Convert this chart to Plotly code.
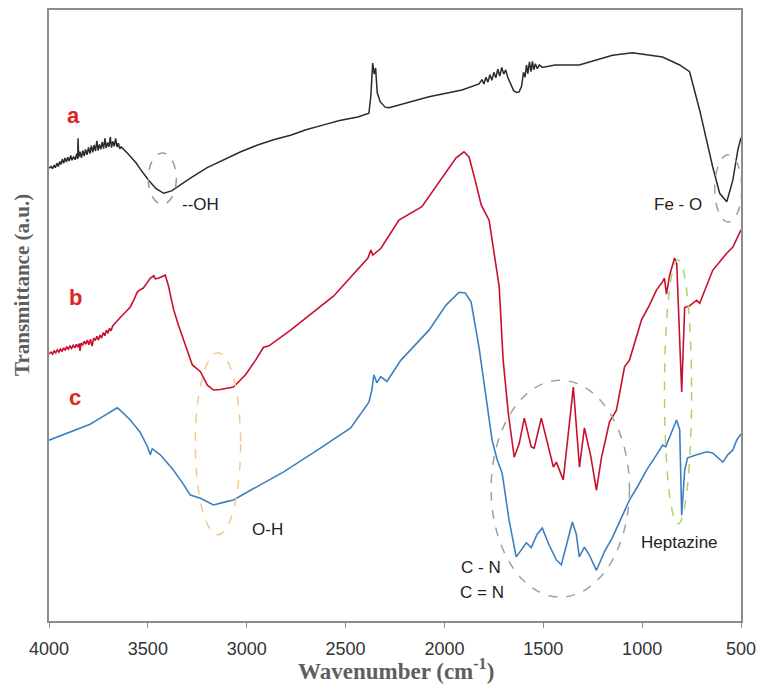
import plotly.graph_objects as go

# Curve a (Fe3O4) : wavenumber (cm-1), transmittance (a.u.)
wn_a = [4000, 3990, 3982, 3975, 3968, 3960, 3953, 3946, 3940, 3932, 3926, 3919, 3912, 3905, 3898, 3890,
        3884, 3876, 3868, 3860, 3855, 3853, 3850, 3843, 3836, 3829, 3822, 3815, 3808, 3800, 3793, 3786,
        3779, 3772, 3765, 3758, 3752, 3745, 3738, 3731, 3724, 3717, 3711, 3704, 3697, 3690, 3684, 3677,
        3670, 3663, 3656, 3649, 3642, 3635, 3604, 3560, 3539, 3500, 3460, 3420, 3380, 3330, 3285, 3200,
        3118, 3030, 2945, 2860, 2778, 2700, 2611, 2530, 2438, 2382, 2372, 2363, 2355, 2348, 2340, 2325,
        2300, 2280, 2078, 1911, 1825, 1810, 1800, 1790, 1780, 1770, 1760, 1750, 1740, 1730, 1720, 1710,
        1700, 1690, 1680, 1665, 1650, 1635, 1622, 1610, 1600, 1592, 1585, 1578, 1570, 1562, 1555, 1548,
        1540, 1530, 1520, 1505, 1480, 1440, 1318, 1150, 1049, 897, 810, 760, 709, 684, 668, 643, 608,
        572, 541, 516, 500]
t_a = [74.1, 74.4, 74.0, 74.6, 74.2, 74.9, 74.4, 75.2, 74.7, 75.6, 74.9, 75.8, 75.1, 75.9, 75.3, 76.2,
       75.4, 76.0, 75.5, 76.5, 75.6, 79.0, 75.9, 76.8, 75.8, 77.0, 76.1, 77.2, 76.3, 77.5, 76.5, 77.8,
       76.7, 77.9, 76.9, 78.6, 77.0, 78.0, 77.2, 78.4, 77.3, 79.0, 77.4, 78.3, 77.6, 79.2, 77.5, 78.5,
       77.7, 79.0, 77.6, 78.2, 77.3, 77.6, 76.6, 75.0, 74.0, 72.3, 70.8, 70.0, 70.4, 71.5, 72.5, 74.2,
       75.4, 76.8, 77.9, 78.8, 79.5, 80.4, 81.2, 81.9, 82.5, 83.1, 86.0, 91.3, 89.5, 90.5, 86.5, 85.0,
       84.1, 84.0, 85.8, 86.9, 87.9, 88.6, 87.9, 89.0, 88.2, 89.4, 88.5, 89.8, 88.9, 90.3, 89.2, 90.6,
       89.5, 90.2, 89.0, 88.0, 86.8, 86.5, 86.6, 87.5, 89.8, 89.0, 91.0, 89.6, 91.5, 89.9, 91.6, 90.2,
       91.2, 90.4, 91.0, 90.6, 90.8, 91.0, 91.0, 92.6, 93.0, 92.3, 91.0, 89.9, 83.6, 79.9, 77.5, 74.3,
       70.0, 68.6, 72.2, 77.1, 79.1]

# Curve b
wn_b = [4000, 3990, 3982, 3974, 3966, 3958, 3950, 3942, 3934, 3926, 3918, 3910, 3902, 3894, 3886, 3878,
        3870, 3862, 3855, 3848, 3843, 3838, 3830, 3822, 3814, 3806, 3798, 3790, 3782, 3774, 3766, 3758,
        3750, 3742, 3734, 3726, 3718, 3710, 3702, 3694, 3686, 3678, 3650, 3620, 3589, 3570, 3554, 3540,
        3523, 3505, 3488, 3470, 3462, 3447, 3430, 3412, 3397, 3370, 3346, 3310, 3275, 3234, 3199, 3168,
        3133, 3067, 3006, 2955, 2915, 2889, 2778, 2560, 2387, 2372, 2362, 2321, 2230, 2114, 2017, 1941,
        1901, 1875, 1845, 1814, 1774, 1723, 1703, 1677, 1647, 1622, 1596, 1561, 1546, 1510, 1449, 1434,
        1399, 1373, 1348, 1317, 1292, 1260, 1231, 1206, 1165, 1130, 1089, 1064, 1003, 963, 927, 897,
        887, 877, 861, 836, 825, 800, 785, 760, 724, 709, 643, 572, 541, 500]
t_b = [43.7, 44.0, 43.7, 44.2, 43.9, 44.4, 44.0, 44.5, 44.1, 44.7, 44.3, 44.9, 44.5, 45.0, 44.6, 45.1,
       44.7, 45.3, 44.8, 45.4, 44.2, 45.5, 45.1, 45.8, 45.3, 46.0, 45.2, 46.1, 45.0, 46.3, 45.9, 46.6,
       46.0, 46.8, 46.3, 47.2, 46.7, 47.6, 47.1, 47.9, 47.5, 48.3, 49.3, 50.3, 51.4, 52.6, 53.8, 54.2,
       54.5, 55.3, 56.1, 56.5, 56.0, 56.1, 56.4, 56.6, 55.0, 51.0, 48.5, 45.2, 41.9, 40.8, 38.6, 37.8,
       37.9, 38.3, 40.3, 42.7, 44.8, 45.0, 47.6, 53.2, 59.4, 60.7, 59.9, 61.0, 65.6, 67.8, 72.2, 75.8,
       76.8, 75.9, 72.2, 68.1, 65.6, 54.7, 42.7, 34.0, 26.8, 29.0, 33.2, 28.5, 28.3, 33.2, 25.2, 26.0,
       23.1, 30.8, 38.3, 25.2, 31.6, 27.0, 21.4, 26.7, 32.6, 34.5, 41.6, 42.7, 49.3, 51.7, 54.2, 55.5,
       56.1, 53.5, 56.6, 59.4, 58.5, 37.5, 51.3, 51.6, 52.5, 52.0, 57.4, 60.2, 61.2, 64.0]

# Curve c
wn_c = [4000, 3944, 3868, 3792, 3741, 3691, 3655, 3640, 3589, 3539, 3503, 3488, 3478, 3437, 3371, 3325,
        3285, 3234, 3168, 3108, 3067, 2981, 2813, 2641, 2474, 2382, 2367, 2357, 2342, 2322, 2291, 2220,
        2078, 1992, 1926, 1895, 1865, 1825, 1794, 1774, 1759, 1733, 1708, 1673, 1637, 1612, 1586, 1561,
        1531, 1505, 1470, 1434, 1409, 1383, 1353, 1333, 1318, 1292, 1267, 1231, 1191, 1150, 1105, 1064,
        1018, 978, 937, 896, 881, 861, 841, 826, 810, 800, 785, 770, 724, 674, 643, 618, 592, 567, 541,
        522, 500]
t_c = [29.6, 30.3, 31.3, 32.2, 33.2, 34.2, 34.9, 34.5, 32.9, 30.9, 28.6, 27.2, 28.2, 27.2, 24.7, 22.6,
       20.6, 20.1, 19.0, 19.5, 19.8, 21.4, 24.4, 28.0, 31.6, 35.8, 37.8, 40.3, 39.0, 40.0, 39.2, 42.7,
       47.6, 51.7, 53.8, 53.7, 52.2, 44.8, 37.8, 32.9, 29.6, 26.4, 24.2, 16.5, 10.5, 11.6, 12.8, 12.0,
       14.2, 15.2, 12.4, 10.0, 9.2, 12.4, 16.2, 14.2, 10.5, 12.1, 10.8, 8.3, 11.3, 13.7, 16.9, 19.8,
       22.3, 24.7, 26.7, 28.8, 28.5, 30.0, 31.6, 32.9, 31.3, 17.3, 24.7, 26.7, 27.2, 27.7, 27.5, 26.7,
       26.0, 27.2, 28.0, 29.6, 30.6]

tick_vals = [4000, 3500, 3000, 2500, 2000, 1500, 1000, 500]
tick_text = ["4000", "3500", "3000", "2500", "2000", "1500", "1000", "500"]

fig = go.Figure()
fig.add_trace(go.Scatter(x=wn_a, y=t_a, mode="lines", line=dict(color="#2b2b2b", width=1.5), name="a"))
fig.add_trace(go.Scatter(x=wn_b, y=t_b, mode="lines", line=dict(color="#c8102e", width=1.6), name="b"))
fig.add_trace(go.Scatter(x=wn_c, y=t_c, mode="lines", line=dict(color="#3f7fc0", width=1.6), name="c"))

# dashed ellipses
ellipses = [
    (3498, 3356, 68.2, 76.6, "#8a9ab8"),
    (633, 496, 65.3, 76.3, "#a0a0a0"),
    (3260, 3031, 14.1, 43.9, "#f5c88a"),
    (1764, 1064, 3.9, 39.4, "#a0a0a0"),
    (887, 750, 15.9, 59.1, "#a8d46f"),
]
for x0, x1, y0, y1, col in ellipses:
    fig.add_shape(type="circle", xref="x", yref="y", x0=x0, x1=x1, y0=y0, y1=y1,
                  line=dict(color=col, width=1.5, dash="dash"))

lab_font = dict(family="Liberation Sans, Arial, sans-serif", size=17, color="#222222")
red_font = dict(family="Liberation Sans, Arial, sans-serif", size=22, color="#e02424")
for txt, x, y in [("a", 3878, 82.8), ("b", 3868, 53.0), ("c", 3868, 36.5)]:
    fig.add_annotation(x=x, y=y, text="<b>%s</b>" % txt, showarrow=False, font=red_font)
for txt, x, y in [("--OH", 3234, 68.1), ("Fe - O", 820, 68.1), ("O-H", 2895, 14.9),
                  ("C - N", 1815, 8.8), ("C = N", 1810, 4.6), ("Heptazine", 810, 12.9)]:
    fig.add_annotation(x=x, y=y, text=txt, showarrow=False, font=lab_font)

title_font = dict(family="Liberation Serif, Times New Roman, serif", color="#5e5e5e")
fig.add_annotation(xref="paper", yref="paper", x=(22 - 49) / 692, y=(621 - 285) / 611,
                   text="<b>Transmittance (a.u.)</b>", textangle=-90, showarrow=False,
                   xanchor="center", yanchor="middle", font=dict(size=21, **title_font))
fig.add_annotation(xref="paper", yref="paper", x=(396 - 49) / 692, y=(621 - 670) / 611,
                   text="<b>Wavenumber (cm<sup>-1</sup>)</b>", showarrow=False,
                   xanchor="center", yanchor="middle", font=dict(size=23, **title_font))

fig.update_layout(
    width=758, height=684,
    margin=dict(l=49, r=17, t=10, b=63),
    paper_bgcolor="white", plot_bgcolor="white",
    showlegend=False,
    xaxis=dict(range=[4000, 500], tickvals=tick_vals, ticktext=tick_text, automargin=False,
               showgrid=False, zeroline=False, showline=True, linecolor="#8c8c8c", linewidth=1.5,
               mirror=True, ticks="outside", ticklen=5, tickcolor="#8c8c8c", ticklabelstandoff=6,
               tickfont=dict(family="Liberation Sans, Arial, sans-serif", size=18, color="#333333")),
    yaxis=dict(range=[0, 100], showticklabels=False, ticks="", automargin=False,
               showgrid=False, zeroline=False, showline=True, linecolor="#8c8c8c", linewidth=1.5,
               mirror=True),
)

fig.write_html("out.html", config={"displayModeBar": False},
               post_script="document.body.style.margin='0px';document.body.style.overflow='hidden';")
